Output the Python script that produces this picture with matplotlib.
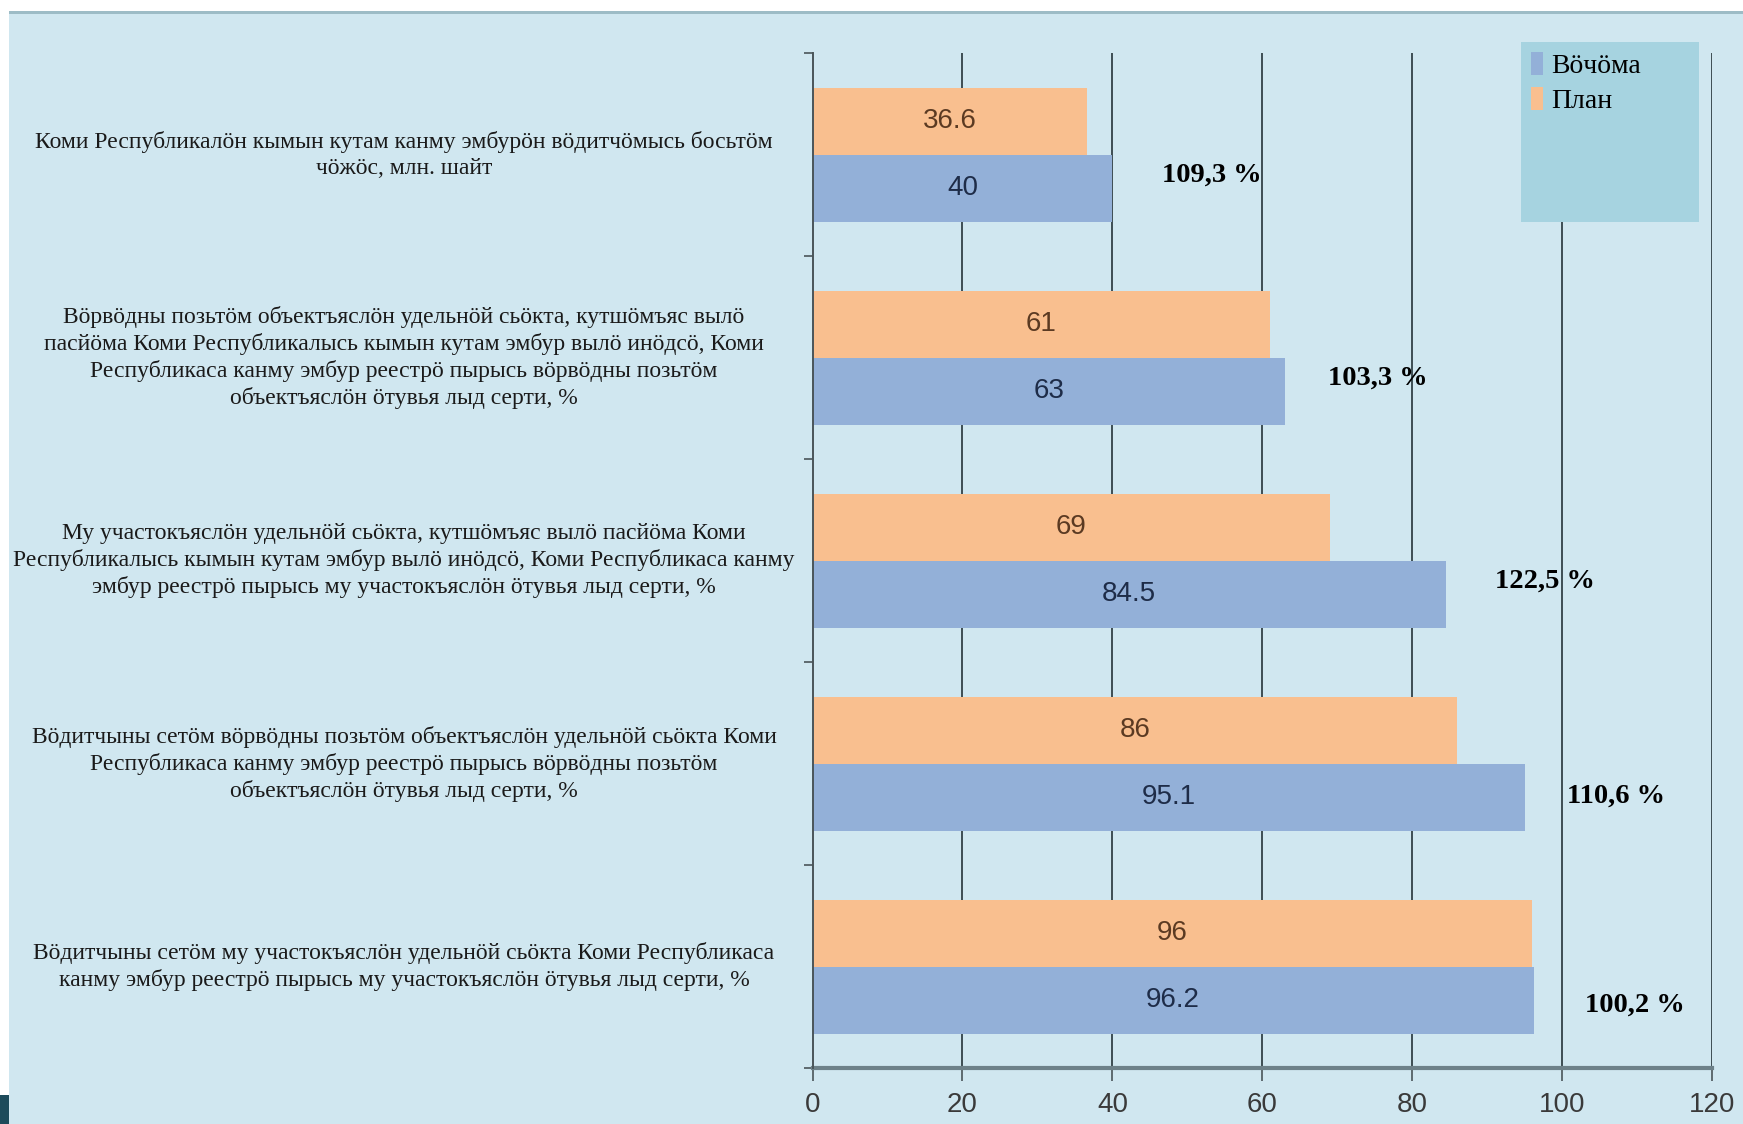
import numpy as np
import matplotlib
matplotlib.use("Agg")
import matplotlib.pyplot as plt
from matplotlib.patches import Rectangle, Patch
from matplotlib.transforms import blended_transform_factory

# data
categories = [
    "Коми Республикалӧн кымын кутам канму эмбурӧн вӧдитчӧмысь босьтӧм\nчӧжӧс, млн. шайт",
    "Вӧрвӧдны позьтӧм объектъяслӧн удельнӧй сьӧкта, кутшӧмъяс вылӧ\n"
    "пасйӧма Коми Республикалысь кымын кутам эмбур вылӧ инӧдсӧ, Коми\n"
    "Республикаса канму эмбур реестрӧ пырысь вӧрвӧдны позьтӧм\n"
    "объектъяслӧн ӧтувья лыд серти, %",
    "Му участокъяслӧн удельнӧй сьӧкта, кутшӧмъяс вылӧ пасйӧма Коми\n"
    "Республикалысь кымын кутам эмбур вылӧ инӧдсӧ, Коми Республикаса канму\n"
    "эмбур реестрӧ пырысь му участокъяслӧн ӧтувья лыд серти, %",
    "Вӧдитчыны сетӧм вӧрвӧдны позьтӧм объектъяслӧн удельнӧй сьӧкта Коми\n"
    "Республикаса канму эмбур реестрӧ пырысь вӧрвӧдны позьтӧм\n"
    "объектъяслӧн ӧтувья лыд серти, %",
    "Вӧдитчыны сетӧм му участокъяслӧн удельнӧй сьӧкта Коми Республикаса\n"
    "канму эмбур реестрӧ пырысь му участокъяслӧн ӧтувья лыд серти, %",
]
plan = [36.6, 61, 69, 86, 96]
actual = [40, 63, 84.5, 95.1, 96.2]
series_names = ["Вӧчӧма", "План"]
xticks = [0, 20, 40, 60, 80, 100, 120]

# layout of the percent labels (data x, y shift from group centre)
pct_x = [46.6, 68.8, 91.1, 100.7, 103.1]
pct_dy = [0.10, 0.10, 0.10, 0.16, 0.19]

c_plan = "#f9bf8f"
c_act = "#93b0d8"
bg = "#d0e7f0"

fig = plt.figure(figsize=(17.43, 11.24), dpi=100)
fig.patch.set_facecolor(bg)

# page frame bits
fig.patches.append(Rectangle((0, 1 - 11 / 1124), 1, 11 / 1124, transform=fig.transFigure,
                             facecolor="white", edgecolor="none"))
fig.patches.append(Rectangle((0, 1 - 14 / 1124), 1, 3 / 1124, transform=fig.transFigure,
                             facecolor="#9dbcc6", edgecolor="none"))
fig.patches.append(Rectangle((0, 0), 9 / 1743, 1, transform=fig.transFigure,
                             facecolor="white", edgecolor="none"))
fig.patches.append(Rectangle((0, 0), 9 / 1743, 29 / 1124, transform=fig.transFigure,
                             facecolor="#1d4b5b", edgecolor="none"))

ax = fig.add_axes([0.4662, 0.0498, 0.5160, 0.9027])
ax.set_facecolor("none")

y = np.arange(len(categories))
h = 0.33
ax.barh(y - h / 2, plan, height=h, color=c_plan, zorder=3)
ax.barh(y + h / 2, actual, height=h, color=c_act, zorder=3)

for i in range(len(categories)):
    ax.text(plan[i] / 2, y[i] - h / 2, f"{plan[i]:g}", ha="center", va="center",
            fontsize=20, family="Liberation Sans", color="#5b3a22", zorder=4)
    ax.text(actual[i] / 2, y[i] + h / 2, f"{actual[i]:g}", ha="center", va="center",
            fontsize=20, family="Liberation Sans", color="#1e2c48", zorder=4)
    pct = actual[i] / plan[i] * 100
    ax.text(pct_x[i], y[i] + pct_dy[i], f"{pct:.1f}".replace(".", ",") + " %",
            ha="left", va="center", fontsize=20.5, fontweight="bold",
            family=["Liberation Serif", "DejaVu Serif"], color="black", zorder=4)

# category labels
trans = blended_transform_factory(fig.transFigure, ax.transData)
for i, lab in enumerate(categories):
    ax.text(0.2318, y[i], lab, transform=trans, ha="center", va="center",
            multialignment="center", fontsize=17, linespacing=1.29,
            family=["Liberation Serif", "DejaVu Serif"], color="#1a1a1a")

ax.set_xlim(0, 120)
ax.set_ylim(len(categories) - 0.5, -0.5)
ax.set_xticks(xticks)
ax.set_xticklabels([str(t) for t in xticks], family="Liberation Sans",
                   fontsize=20, color="#3a3a3a")
ax.set_yticks(np.arange(len(categories) + 1) - 0.5)
ax.set_yticklabels([])
ax.tick_params(axis="x", length=9.5, width=1.2, color="#4a5559", pad=8, direction="out")
ax.tick_params(axis="y", length=6.5, width=1.2, color="#4a5559", direction="out")
for t in xticks[1:]:
    ax.axvline(t, color="#3e4d53", lw=1.4, zorder=1)

for s in ["top", "right"]:
    ax.spines[s].set_visible(False)
ax.spines["left"].set_color("#4a5559")
ax.spines["left"].set_linewidth(1.4)
ax.spines["left"].set_zorder(5)
ax.spines["bottom"].set_color("#6d8189")
ax.spines["bottom"].set_linewidth(3)

# legend box
lx, ly, lw, lh = 1521 / 1743, 1 - 222 / 1124, 178 / 1743, 180 / 1124
ax.add_patch(Rectangle((lx, ly), lw, lh, transform=fig.transFigure, facecolor="#a6d3e0",
                       edgecolor="none", zorder=6, clip_on=False))
handles = [Patch(facecolor=c_act), Patch(facecolor=c_plan)]
leg = ax.legend(handles, series_names, loc="upper left", bbox_to_anchor=(lx, ly + lh),
                bbox_transform=fig.transFigure, frameon=False, handlelength=0.45,
                handleheight=0.9, handletextpad=0.3, borderpad=0.35, borderaxespad=0,
                labelspacing=0.3, prop={"family": ["Liberation Serif", "DejaVu Serif"], "size": 20})
leg.set_zorder(7)

fig.savefig("out.png", dpi=100, facecolor=fig.get_facecolor())
